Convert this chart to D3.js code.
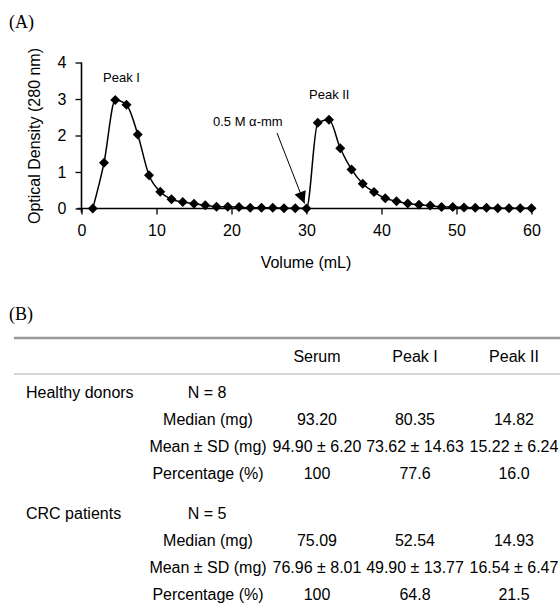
<!DOCTYPE html>
<html>
<head>
<meta charset="utf-8">
<script src="https://cdn.jsdelivr.net/npm/d3@7"></script>
<style>
  body { margin: 0; background: #fff; }
  svg text { font-family: "Liberation Sans", Arial, sans-serif; fill: #000; }
  .panel { font-family: "Liberation Serif", "Times New Roman", serif; font-size: 18px; }
</style>
</head>
<body>
<svg id="fig" width="560" height="611"></svg>
<script>
// elution volume of each 1.5 mL fraction and its optical density
var volumes = [1.5, 3, 4.5, 6, 7.5, 9, 10.5, 12, 13.5, 15, 16.5, 18, 19.5, 21, 22.5, 24, 25.5, 27, 28.5, 30,
               31.5, 33, 34.5, 36, 37.5, 39, 40.5, 42, 43.5, 45, 46.5, 48, 49.5, 51, 52.5, 54, 55.5, 57, 58.5, 60];
var density = [0, 1.25, 2.97, 2.84, 2.03, 0.91, 0.46, 0.25, 0.18, 0.13, 0.09, 0.05, 0.05, 0.04, 0.02, 0.02, 0.02, 0.01, 0.01, 0,
               2.35, 2.43, 1.65, 1.07, 0.68, 0.45, 0.28, 0.2, 0.14, 0.1, 0.08, 0.04, 0.04, 0.03, 0.02, 0.02, 0.01, 0.01, 0.01, 0.01];
var xTicks = [0, 10, 20, 30, 40, 50, 60];
var yTicks = [0, 1, 2, 3, 4];

// table (B)
var columns = ['Serum', 'Peak I', 'Peak II'];
var groups = ['Healthy donors', 'CRC patients'];
var groupN = ['N = 8', 'N = 5'];
var rowLabels = ['Median (mg)', 'Mean \u00b1 SD (mg)', 'Percentage (%)'];
var healthyRows = [
  ['93.20', '80.35', '14.82'],
  ['94.90 \u00b1 6.20', '73.62 \u00b1 14.63', '15.22 \u00b1 6.24'],
  ['100', '77.6', '16.0']
];
var crcRows = [
  ['75.09', '52.54', '14.93'],
  ['76.96 \u00b1 8.01', '49.90 \u00b1 13.77', '16.54 \u00b1 6.47'],
  ['100', '64.8', '21.5']
];

var svg = d3.select('#fig');

// ---- panel A ----
svg.append('text').attr('class', 'panel').attr('x', 9).attr('y', 28).text('(A)');

var x = d3.scaleLinear().domain([0, 60]).range([81.5, 531.5]),
    y = d3.scaleLinear().domain([0, 4]).range([208.5, 62.5]);

var xAxis = svg.append('g').attr('transform', 'translate(0,' + y(0) + ')')
  .call(d3.axisBottom(x).tickValues(xTicks).tickFormat(d3.format('d')).tickSize(6).tickPadding(10).tickSizeOuter(0));
var yAxis = svg.append('g').attr('transform', 'translate(' + x(0) + ',0)')
  .call(d3.axisLeft(y).tickValues(yTicks).tickFormat(d3.format('d')).tickSize(6).tickPadding(9).tickSizeOuter(0));
[xAxis, yAxis].forEach(function (a) {
  a.select('.domain').attr('stroke', '#000').attr('stroke-width', 1.6);
  a.selectAll('.tick line').attr('stroke', '#000').attr('stroke-width', 1.3);
  a.selectAll('.tick text').style('font-size', '16px').style('font-family', '"Liberation Sans", Arial, sans-serif');
});
xAxis.select('.domain').attr('d', 'M' + (x(0) - 4) + ',0H' + (x(60) + 4));
yAxis.select('.domain').attr('d', 'M0,' + (y(0) + 4) + 'V' + y(4));

svg.append('text').attr('x', 306).attr('y', 268).attr('text-anchor', 'middle')
  .style('font-size', '16px').text('Volume (mL)');
svg.append('text').attr('transform', 'translate(40,136) rotate(-90)').attr('text-anchor', 'middle')
  .style('font-size', '16px').text('Optical Density (280 nm)');

var pts = volumes.map(function (v, i) { return [v, density[i]]; });
var line = d3.line().x(function (d) { return x(d[0]); }).y(function (d) { return y(d[1]); })
  .curve(d3.curveMonotoneX);
svg.append('path').datum(pts).attr('d', line).attr('fill', 'none').attr('stroke', '#000').attr('stroke-width', 1.5);

var diamond = d3.symbol().type(d3.symbolSquare).size(50);
svg.append('g').selectAll('path').data(pts).enter().append('path')
  .attr('d', diamond)
  .attr('transform', function (d) { return 'translate(' + x(d[0]) + ',' + y(d[1]) + ') rotate(45)'; })
  .attr('fill', '#000');

svg.append('text').attr('x', 103).attr('y', 82).style('font-size', '13px').text('Peak I');
svg.append('text').attr('x', 309).attr('y', 99).style('font-size', '13px').text('Peak II');
svg.append('text').attr('x', 213).attr('y', 126).style('font-size', '13px').text('0.5 M \u03b1-mm');

svg.append('defs').append('marker').attr('id', 'head')
  .attr('viewBox', '0 0 10 10').attr('refX', 10).attr('refY', 5)
  .attr('markerWidth', 15).attr('markerHeight', 12).attr('markerUnits', 'userSpaceOnUse')
  .attr('orient', 'auto')
  .append('path').attr('d', 'M0,0L10,5L0,10Z').attr('fill', '#000');
svg.append('line').attr('x1', 277).attr('y1', 133).attr('x2', x(30) - 2).attr('y2', y(0) - 5)
  .attr('stroke', '#000').attr('stroke-width', 1).attr('marker-end', 'url(#head)');

// ---- panel B ----
svg.append('text').attr('class', 'panel').attr('x', 9).attr('y', 320).text('(B)');

var colX = [317, 415, 514];
var fs = '16px';

svg.append('line').attr('x1', 14).attr('x2', 560).attr('y1', 338).attr('y2', 338)
  .attr('stroke', '#999').attr('stroke-width', 2.5);
svg.append('line').attr('x1', 14).attr('x2', 560).attr('y1', 374).attr('y2', 374)
  .attr('stroke', '#aaa').attr('stroke-width', 1);

svg.append('g').selectAll('text').data(columns).enter().append('text')
  .attr('x', function (d, i) { return colX[i]; }).attr('y', 362)
  .attr('text-anchor', 'middle').style('font-size', fs).text(function (d) { return d; });

var rowH = 27;
[healthyRows, crcRows].forEach(function (rows, g) {
  var top = 397.5 + g * 121;
  svg.append('text').attr('x', 26).attr('y', top).style('font-size', fs).text(groups[g]);
  svg.append('text').attr('x', 207).attr('y', top).attr('text-anchor', 'middle').style('font-size', fs).text(groupN[g]);
  rows.forEach(function (r, k) {
    var yy = top + (k + 1) * rowH;
    svg.append('text').attr('x', 208).attr('y', yy).attr('text-anchor', 'middle').style('font-size', fs).text(rowLabels[k]);
    svg.append('g').selectAll('text').data(r).enter().append('text')
      .attr('x', function (d, i) { return colX[i]; }).attr('y', yy)
      .attr('text-anchor', 'middle').style('font-size', fs).text(function (d) { return d; });
  });
});
</script>
</body>
</html>
